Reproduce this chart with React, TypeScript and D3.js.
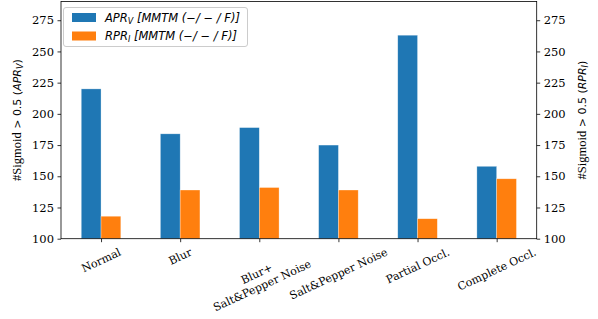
import React, { useRef, useEffect } from "react";
import * as d3 from "d3";

const categories = [
  "Normal",
  "Blur",
  "Blur+\nSalt&Pepper Noise",
  "Salt&Pepper Noise",
  "Partial Occl.",
  "Complete Occl.",
];
const aprValues = [220, 184, 189, 175, 263, 158];
const rprValues = [118, 139, 141, 139, 116, 148];
const yTicks = [100, 125, 150, 175, 200, 225, 250, 275];

const BLUE = "#1f77b4";
const ORANGE = "#ff7f0e";

function App() {
  const svgRef = useRef<SVGSVGElement>(null);

  useEffect(() => {
    d3.select(svgRef.current).selectAll("*").remove();
    const width = 598;
    const height = 319;
    const left = 61;
    const right = 536.7;
    const top = 1.5;
    const bottom = 238.7;

    const svg = d3
      .select(svgRef.current)
      .attr("width", width)
      .attr("height", height)
      .style("position", "absolute")
      .style("left", "0px")
      .style("top", "0px")
      .style("background", "#fff");

    // scales
    const x = d3.scaleLinear().domain([-0.506, categories.length - 1 + 0.506]).range([left, right]);
    const y = d3.scaleLinear().domain([100, 290]).range([bottom, top]);
    const bw = x(0.25) - x(0);

    // bars
    const bars = svg.append("g");
    bars
      .selectAll(".apr")
      .data(aprValues)
      .join("rect")
      .attr("x", (v, i) => x(i) - bw)
      .attr("y", (v) => y(v))
      .attr("width", bw)
      .attr("height", (v) => bottom - y(v))
      .attr("fill", BLUE)
      .attr("stroke", "#fff")
      .attr("stroke-opacity", 0.5)
      .attr("stroke-width", 0.6);
    bars
      .selectAll(".rpr")
      .data(rprValues)
      .join("rect")
      .attr("x", (v, i) => x(i))
      .attr("y", (v) => y(v))
      .attr("width", bw)
      .attr("height", (v) => bottom - y(v))
      .attr("fill", ORANGE)
      .attr("stroke", "#fff")
      .attr("stroke-opacity", 0.5)
      .attr("stroke-width", 0.6);

    // axes
    const tickFont = "'DejaVu Serif', serif";
    const leftAxis = svg
      .append("g")
      .attr("transform", `translate(${left},0)`)
      .call(d3.axisLeft(y).tickValues(yTicks).tickSize(3.5).tickPadding(3.5));
    const rightAxis = svg
      .append("g")
      .attr("transform", `translate(${right},0)`)
      .call(d3.axisRight(y).tickValues(yTicks).tickSize(3.5).tickPadding(3.5));
    const bottomAxis = svg
      .append("g")
      .attr("transform", `translate(0,${bottom})`)
      .call(d3.axisBottom(x).tickValues(d3.range(categories.length)).tickSize(3.5).tickFormat(() => ""));
    [leftAxis, rightAxis, bottomAxis].forEach((g) => {
      g.select(".domain").remove();
      g.attr("font-family", null).attr("font-size", null);
      g.selectAll("line").attr("stroke", "#000").attr("stroke-width", 0.8);
      g.selectAll("text")
        .attr("fill", "#000")
        .style("font-family", tickFont)
        .style("font-size", "11.5px");
    });

    // frame
    svg
      .append("rect")
      .attr("x", left)
      .attr("y", top)
      .attr("width", right - left)
      .attr("height", bottom - top)
      .attr("fill", "none")
      .attr("stroke", "#000")
      .attr("stroke-width", 0.8);

    // x tick labels, rotated 25 degrees
    const angle = 25;
    const rad = (angle * Math.PI) / 180;
    const lineH = 13;
    const yTop = bottom + 6.5;
    categories.forEach((c, i) => {
      const lines = c.split("\n");
      const g = svg.append("g");
      const t = g
        .append("text")
        .style("font-family", tickFont)
        .style("font-size", "11px")
        .attr("text-anchor", "middle")
        .attr("dominant-baseline", "central");
      lines.forEach((l, j) => {
        t.append("tspan")
          .attr("x", 0)
          .attr("y", (j - (lines.length - 1) / 2) * lineH)
          .text(l);
      });
      const w = (t.node() as SVGTextElement).getBBox().width;
      const H = lines.length * lineH;
      const bh = w * Math.sin(rad) + H * Math.cos(rad);
      g.attr("transform", `translate(${x(i)},${yTop + bh / 2}) rotate(${-angle})`);
    });

    // y labels
    const yLabel = (cx: number, sub: string, rot: number, name: string) => {
      const t = svg
        .append("text")
        .attr("transform", `translate(${cx},${(top + bottom) / 2}) rotate(${rot})`)
        .attr("text-anchor", "middle")
        .attr("font-size", 11)
        .attr("fill", "#000");
      t.append("tspan").attr("font-family", "Liberation Serif").attr("font-size", 12.5).text("#Sigmoid");
      t.append("tspan").attr("font-family", "DejaVu Sans").text(" > 0.5 (");
      t.append("tspan").attr("font-family", "DejaVu Sans").attr("font-style", "italic").text(name);
      t.append("tspan")
        .attr("font-family", "DejaVu Sans")
        .attr("font-style", "italic")
        .attr("font-size", 8)
        .attr("dy", 2)
        .text(sub);
      t.append("tspan").attr("font-family", "DejaVu Sans").attr("dy", -2).text(")");
    };
    yLabel(21, "V", -90, "APR");
    yLabel(586, "I", -90, "RPR");

    // legend
    const lg = svg.append("g");
    lg.append("rect")
      .attr("x", 63.5)
      .attr("y", 7.5)
      .attr("width", 184)
      .attr("height", 39)
      .attr("rx", 2.5)
      .attr("fill", "#fff")
      .attr("fill-opacity", 0.8)
      .attr("stroke", "#ccc");
    const entries = [
      { name: "APR", sub: "V", color: BLUE },
      { name: "RPR", sub: "I", color: ORANGE },
    ];
    entries.forEach((e, i) => {
      const cy = 17.5 + i * 18.5;
      lg.append("rect")
        .attr("x", 72)
        .attr("y", cy - 4.5)
        .attr("width", 24)
        .attr("height", 9)
        .attr("fill", e.color);
      const t = lg
        .append("text")
        .attr("x", 105)
        .attr("y", cy + 4)
        .attr("font-family", "DejaVu Sans")
        .attr("font-size", 11.5)
        .attr("font-style", "italic")
        .attr("fill", "#000");
      t.append("tspan").text(e.name);
      t.append("tspan").attr("font-size", 8).attr("dy", 2).text(e.sub);
      t.append("tspan").attr("dy", -2).text(" [MMTM (\u2212/ \u2212 / F)]");
    });
  }, []);

  return (
    <div>
      <svg ref={svgRef}></svg>
    </div>
  );
}

export default App;
